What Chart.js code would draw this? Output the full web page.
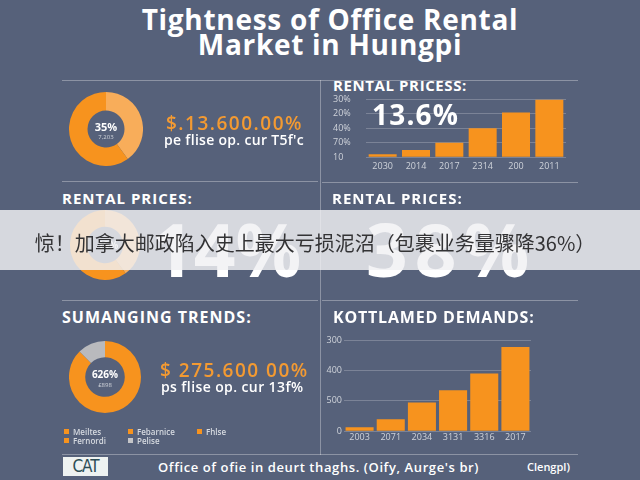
<!DOCTYPE html>
<html>
<head>
<meta charset="utf-8">
<script src="https://cdn.jsdelivr.net/npm/chart.js@4.4.0/dist/chart.umd.min.js"></script>
<style>
  html, body { margin: 0; padding: 0; }
  body { width: 640px; height: 480px; background: #56617a; position: relative; overflow: hidden;
         font-family: "Open Sans", "DejaVu Sans", sans-serif; color: #fff; }
  .abs { position: absolute; white-space: nowrap; }
  .line { position: absolute; background: rgba(255,255,255,0.32); }
  .title { left: 0; width: 660px; text-align: center; font-weight: 700; font-size: 28px; letter-spacing: 0.7px; line-height: 25px; }
  .head { font-weight: 700; font-size: 15px; letter-spacing: 1px; line-height: 16px; }
  .money { color: #f39a32; font-size: 19px; line-height: 20px; font-weight: 600; letter-spacing: 1.5px; }
  .sub { font-size: 14px; font-weight: 600; line-height: 15px; letter-spacing: 0.3px; }
  .big { font-weight: 700; font-size: 73px; line-height: 60px; }
  .legend { font-size: 8px; line-height: 9px; color: #d6dae0; font-weight: 600; }
  .legend span.sq { display: inline-block; width: 5px; height: 5px; margin-right: 4px; vertical-align: 1px; }
</style>
</head>
<body>

<div class="abs title" style="top:7px;">Tightness of Office Rental</div>
<div class="abs title" style="top:32px;">Market in Huıngpi</div>

<div class="line" style="left:62px; top:80px; width:516px; height:1px;"></div>
<div class="line" style="left:320px; top:80px; width:1px; height:375px;"></div>
<div class="line" style="left:62px; top:181px; width:256px; height:1px;"></div>
<div class="line" style="left:322px; top:182px; width:256px; height:1px;"></div>
<div class="line" style="left:62px; top:300px; width:256px; height:1px;"></div>
<div class="line" style="left:322px; top:300px; width:256px; height:1px;"></div>
<div class="line" style="left:62px; top:454px; width:516px; height:1px;"></div>

<!-- top left -->
<canvas id="share" class="abs" width="74" height="74" style="left:69px; top:92px;"></canvas>
<div class="abs" style="left:86px; width:40px; top:119px; text-align:center; font-weight:700; font-size:11px;">35%</div>
<div class="abs" style="left:86px; width:40px; top:133px; text-align:center; font-size:6px; color:#d0d4da;">7,203</div>
<div class="abs money" style="left:166px; top:113px;">$.13.600.00%</div>
<div class="abs sub" style="left:164px; top:132px;">pe flise op. cur T5f'c</div>

<!-- top right -->
<div class="abs head" style="left:333px; top:77px; letter-spacing:0.6px;">RENTAL PRICESS:</div>
<canvas id="rent" class="abs" width="245" height="84" style="left:325px; top:92px;"></canvas>
<div class="abs" style="left:372px; top:99px; font-weight:700; font-size:28px; line-height:30px; letter-spacing:1.2px;">13.6%</div>

<!-- middle -->
<div class="abs head" style="left:62px; top:190px;">RENTAL PRICES:</div>
<div class="abs head" style="left:332px; top:190px;">RENTAL PRICES:</div>
<canvas id="price" class="abs" width="70" height="70" style="left:70px; top:210px;"></canvas>
<div class="abs" style="left:88px; width:40px; top:238px; text-align:center; font-weight:700; font-size:10px;">19%</div>
<div class="abs big" style="left:152px; top:219px;">14%</div>
<div class="abs big" style="left:366px; top:219px; letter-spacing:7px;">38%</div>

<!-- bottom left -->
<div class="abs head" style="left:62px; top:309px; font-size:16px;">SUMANGING TRENDS:</div>
<canvas id="trend" class="abs" width="72" height="72" style="left:69px; top:341px;"></canvas>
<div class="abs" style="left:85px; width:40px; top:367px; text-align:center; font-weight:700; font-size:10px;">626%</div>
<div class="abs" style="left:85px; width:40px; top:381px; text-align:center; font-size:6px; color:#d0d4da;">£898</div>
<div class="abs money" style="left:160px; top:360px;">$ 275.600 00%</div>
<div class="abs sub" style="left:161px; top:379px; letter-spacing:0.4px;">ps flise op. cur 13f%</div>
<div id="legend" class="abs legend" style="left:64px; top:427px; width:200px;"></div>

<!-- bottom right -->
<div class="abs head" style="left:333px; top:309px; font-size:16px; letter-spacing:0.8px;">KOTTLAMED DEMANDS:</div>
<canvas id="demand" class="abs" width="217" height="112" style="left:320px; top:332px;"></canvas>

<!-- footer -->
<div class="abs" style="left:63px; top:457px; width:45px; height:19px; background:#eef2f1; color:#2c4d55; font-size:17px; line-height:19px; text-align:center; font-family:'DejaVu Sans Condensed','DejaVu Sans',sans-serif; letter-spacing:-1px;">CAT</div>
<div class="abs" style="left:158px; top:459px; font-size:13px; font-weight:600; line-height:16px; letter-spacing:0.6px;">Office of ofie in deurt thaghs. (Oify, Aurge's br)</div>
<div class="abs" style="left:527px; top:459px; font-size:11px; font-weight:600; line-height:16px;">Clengpl)</div>

<!-- banner -->
<div class="abs" style="left:0; top:210px; width:640px; height:60px; background:rgba(240,241,243,0.83);"></div>
<div class="abs" style="left:0; top:229px; width:630px; text-align:center; font-family:'Noto Sans CJK SC',sans-serif; font-size:20px; line-height:28px; color:#333335;">惊！加拿大邮政陷入史上最大亏损泥沼（包裹业务量骤降36%）</div>

<script>
// top right bars
const rentYears = ['2030', '2014', '2017', '2314', '200', '2011'];
const rentValues = [2, 5, 10, 20, 31, 40];
const rentTickLabels = ['10', '70%', '40%', '20%', '30%'];

// bottom right bars
const demandYears = ['2003', '2071', '2034', '3131', '3316', '2017'];
const demandValues = [13, 39, 94, 135, 190, 277];
const demandTickLabels = ['0', '500', '400', '300'];

// doughnuts
const shareLabels = ['Fhlse', 'Meiltes'];
const shareValues = [40, 60];
const priceValues = [40, 60];
const trendLabels = ['Meiltes', 'Pelise'];
const trendValues = [87.5, 12.5];

// legend under the trend doughnut
const legendLabels = ['Meiltes', 'Febarnice', 'Fhlse', 'Fernordi', 'Pelise'];
const legendColors = ['#f7931e', '#f7931e', '#f7931e', '#f7931e', '#c4c5c8'];

const orange = '#f7931e';
const lightOrange = '#f8ad5a';
const grey = '#b9babd';
const tickColor = '#cfd3da';
const gridColor = 'rgba(255,255,255,0.22)';

function barChart(id, labels, values, tickLabels, max, step, axisWidth, barPct, pad, xPad, align) {
  return new Chart(document.getElementById(id), {
    type: 'bar',
    data: {
      labels: labels,
      datasets: [{ data: values, backgroundColor: orange, borderWidth: 0,
                   categoryPercentage: 1, barPercentage: barPct }]
    },
    options: {
      responsive: false,
      animation: false,
      layout: { padding: pad },
      plugins: { legend: { display: false }, tooltip: { enabled: false } },
      scales: {
        x: {
          grid: { display: false, drawTicks: false },
          border: { display: false },
          ticks: { color: tickColor, font: { size: 9, family: 'Open Sans' }, padding: xPad, maxRotation: 0 }
        },
        y: {
          min: 0, max: max,
          afterFit: s => { s.width = axisWidth },
          grid: { color: gridColor, drawTicks: false },
          border: { display: false },
          ticks: {
            stepSize: step, crossAlign: align, padding: 2,
            color: tickColor, font: { size: 9, family: 'Open Sans' },
            callback: (v, i) => tickLabels[i]
          }
        }
      }
    }
  })
}

barChart('rent', rentYears, rentValues, rentTickLabels, 40, 10, 33, 0.84,
         { left: 8, right: 4, top: 7, bottom: 0 }, 4, 'far');
barChart('demand', demandYears, demandValues, demandTickLabels, 300, 100, 20, 0.9,
         { left: 4, right: 6, top: 8, bottom: 0 }, 1, 'near');

function doughnut(id, labels, values, colors, cutout) {
  return new Chart(document.getElementById(id), {
    type: 'doughnut',
    data: { labels: labels, datasets: [{ data: values, backgroundColor: colors, borderWidth: 0 }] },
    options: {
      responsive: false,
      animation: false,
      cutout: cutout,
      plugins: { legend: { display: false }, tooltip: { enabled: false } }
    }
  })
}

doughnut('share', shareLabels, shareValues, [lightOrange, orange], '50%');
doughnut('price', shareLabels, priceValues, [lightOrange, orange], '52%');
doughnut('trend', trendLabels, trendValues, [orange, grey], '55%');

const legend = document.getElementById('legend');
legendLabels.forEach((l, i) => {
  const item = document.createElement('span');
  item.style.display = 'inline-block';
  item.style.width = i === 0 || i === 3 ? '64px' : (i === 1 ? '69px' : '50px');
  item.innerHTML = '<span class="sq" style="background:' + legendColors[i] + '"></span>' + l;
  legend.appendChild(item);
  if (i === 2) legend.appendChild(document.createElement('br'));
});
</script>
</body>
</html>
